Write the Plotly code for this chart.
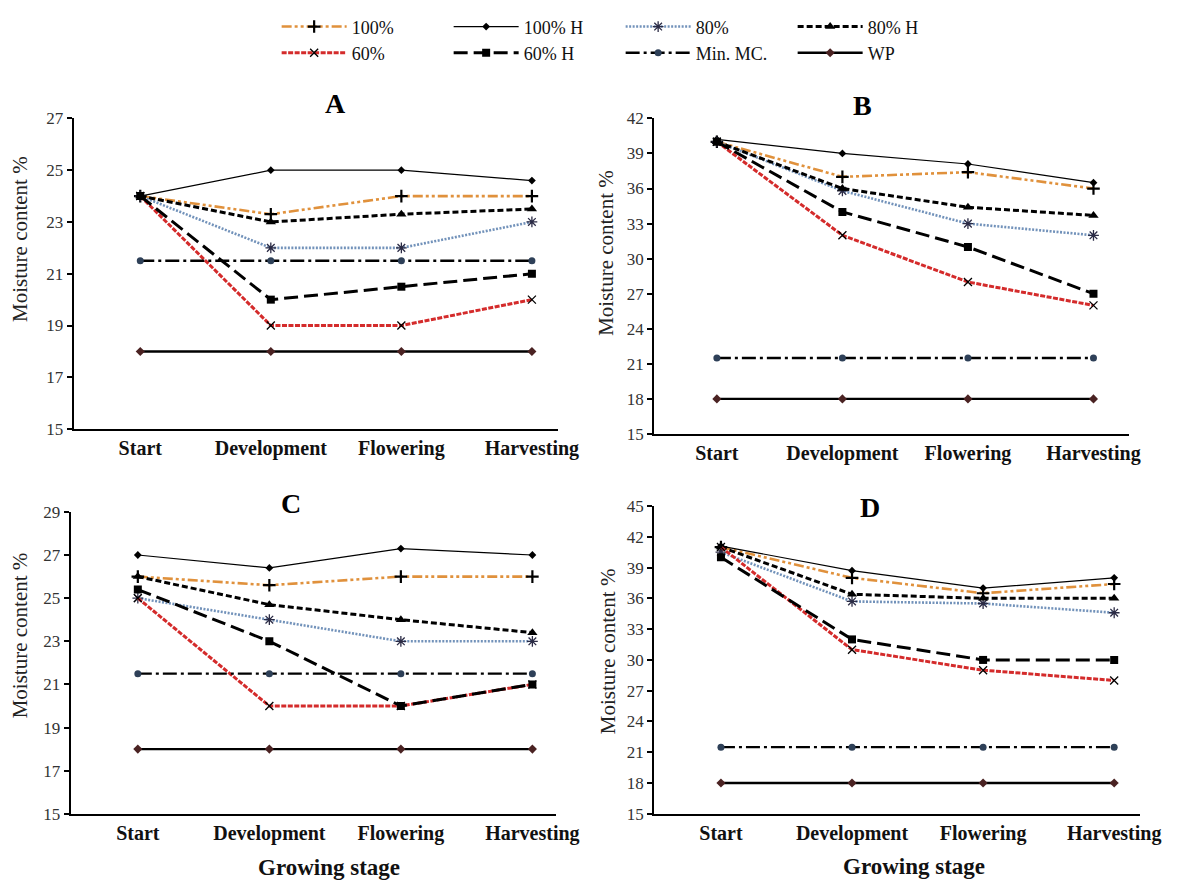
import plotly.graph_objects as go

stages = ["Start", "Development", "Flowering", "Harvesting"]
series_names = ["100%", "100% H", "80%", "80% H", "60%", "60% H", "Min. MC.", "WP"]

# Panel A
A_100 = [24, 23.3, 24, 24]
A_100H = [24, 25, 25, 24.6]
A_80 = [24, 22, 22, 23]
A_80H = [24, 23, 23.3, 23.5]
A_60 = [24, 19, 19, 20]
A_60H = [24, 20, 20.5, 21]
A_MIN = [21.5, 21.5, 21.5, 21.5]
A_WP = [18, 18, 18, 18]

# Panel B
B_100 = [40, 37, 37.4, 36]
B_100H = [40.2, 39, 38.1, 36.5]
B_80 = [40, 35.8, 33, 32]
B_80H = [40, 36, 34.4, 33.7]
B_60 = [40, 32, 28, 26]
B_60H = [40, 34, 31, 27]
B_MIN = [21.5, 21.5, 21.5, 21.5]
B_WP = [18, 18, 18, 18]

# Panel C
C_100 = [26, 25.6, 26, 26]
C_100H = [27, 26.4, 27.3, 27]
C_80 = [25, 24, 23, 23]
C_80H = [26, 24.7, 24, 23.4]
C_60 = [25, 20, 20, 21]
C_60H = [25.4, 23, 20, 21]
C_MIN = [21.5, 21.5, 21.5, 21.5]
C_WP = [18, 18, 18, 18]

# Panel D
D_100 = [41, 38, 36.5, 37.4]
D_100H = [41.1, 38.7, 37, 38]
D_80 = [40.5, 35.7, 35.5, 34.6]
D_80H = [41, 36.4, 36, 36]
D_60 = [41, 31, 29, 28]
D_60H = [40, 32, 30, 30]
D_MIN = [21.5, 21.5, 21.5, 21.5]
D_WP = [18, 18, 18, 18]

panel_labels = ["A", "B", "C", "D"]
y_ranges = [[15, 27], [15, 42], [15, 29], [15, 45]]
y_dticks = [2, 3, 2, 3]

panels = [
    [A_100, A_100H, A_80, A_80H, A_60, A_60H, A_MIN, A_WP],
    [B_100, B_100H, B_80, B_80H, B_60, B_60H, B_MIN, B_WP],
    [C_100, C_100H, C_80, C_80H, C_60, C_60H, C_MIN, C_WP],
    [D_100, D_100H, D_80, D_80H, D_60, D_60H, D_MIN, D_WP],
]

styles = [
    dict(line=dict(color="#E0913C", width=2.6, dash="10px,3px,3px,3px,3px,3px"),
         marker=dict(symbol="cross-thin-open", size=9, color="black", line=dict(color="black", width=2.2))),
    dict(line=dict(color="black", width=1.2),
         marker=dict(symbol="diamond", size=6, color="black")),
    dict(line=dict(color="#7292BA", width=2.6, dash="2px,1.5px"),
         marker=dict(symbol="asterisk-open", size=9, color="#2B2B45", line=dict(color="#2B2B45", width=1.3))),
    dict(line=dict(color="black", width=3, dash="6px,3px"),
         marker=dict(symbol="triangle-up", size=9, color="black")),
    dict(line=dict(color="#D42B2B", width=3, dash="5px,1.5px"),
         marker=dict(symbol="x-thin-open", size=8, color="black", line=dict(color="black", width=1.3))),
    dict(line=dict(color="black", width=3, dash="14px,6px"),
         marker=dict(symbol="square", size=8, color="black")),
    dict(line=dict(color="black", width=2.4, dash="14px,4px,3px,4px"),
         marker=dict(symbol="circle", size=7, color="#2E4058")),
    dict(line=dict(color="black", width=2.4),
         marker=dict(symbol="diamond", size=7, color="#4A2222")),
]

SERIF = "Liberation Serif"

# The page body keeps its default 8px margin, so the figure is laid out in a frame
# offset by 8px; layout positions below are page pixels converted to paper fractions.
OFF = 8
W, H = 1183 - OFF, 892 - OFF


def px_x(xp):
    return (xp - OFF) / W


def px_y(yp):
    return 1 - (yp - OFF) / H


x_px = [[75, 569], [667, 1151], [72, 567], [667, 1163]]
y_px = [[108, 427], [108, 432], [512, 822], [506, 822]]
x_ranges = [[-0.51, 3.2], [-0.5, 3.28], [-0.51, 3.18], [-0.51, 3.2]]

fig = go.Figure()

for p in range(4):
    xa = "x" if p == 0 else f"x{p+1}"
    ya = "y" if p == 0 else f"y{p+1}"
    for s in range(8):
        st = styles[s]
        fig.add_trace(go.Scatter(
            x=list(range(len(stages))), y=panels[p][s],
            mode="lines+markers", name=series_names[s],
            line=st["line"], marker=st["marker"],
            xaxis=xa, yaxis=ya,
            showlegend=(p == 0),
            legend="legend" if s < 4 else "legend2",
            legendrank=s,
        ))

layout_axes = {}
for p in range(4):
    xk = "xaxis" if p == 0 else f"xaxis{p+1}"
    yk = "yaxis" if p == 0 else f"yaxis{p+1}"
    ya = "y" if p == 0 else f"y{p+1}"
    xa = "x" if p == 0 else f"x{p+1}"
    layout_axes[xk] = dict(
        domain=[px_x(x_px[p][0]), px_x(x_px[p][1])], anchor=ya, range=x_ranges[p],
        tickvals=list(range(len(stages))), ticktext=stages,
        showline=True, linecolor="black", linewidth=2, ticks="",
        showgrid=False, zeroline=False,
        tickfont=dict(family=SERIF, size=20, color="#111", weight="bold"),
    )
    layout_axes[yk] = dict(
        domain=[px_y(y_px[p][1]), px_y(y_px[p][0])], anchor=xa, range=y_ranges[p],
        dtick=y_dticks[p], tick0=15, showline=True, linecolor="black", linewidth=2,
        ticks="outside", ticklen=5, tickwidth=2, tickcolor="black",
        showgrid=False, zeroline=False,
        tickfont=dict(family=SERIF, size=17, color="#333"),
    )

annotations = []
title_px = [(342, 93), (880, 95), (297, 503), (887, 507)]
for p in range(4):
    annotations.append(dict(
        text=f"<b>{panel_labels[p]}</b>", x=px_x(title_px[p][0]), y=px_y(title_px[p][1]),
        xref="paper", yref="paper", showarrow=False, xanchor="center", yanchor="middle",
        font=dict(family=SERIF, size=28, color="black")))

ytitle_px = [(20, 232), (618, 246), (20, 639), (620, 655)]
for p in range(4):
    annotations.append(dict(
        text="Moisture content %", x=px_x(ytitle_px[p][0]), y=px_y(ytitle_px[p][1]),
        xref="paper", yref="paper", showarrow=False, textangle=-90,
        xanchor="center", yanchor="middle",
        font=dict(family=SERIF, size=21, color="#222")))

for xp, yp in [(335, 877), (932, 876)]:
    annotations.append(dict(
        text="<b>Growing stage</b>", x=px_x(xp), y=px_y(yp), xref="paper", yref="paper",
        showarrow=False, xanchor="center", yanchor="middle",
        font=dict(family=SERIF, size=23, color="#111")))

legend_common = dict(
    orientation="h", xanchor="left", yanchor="top",
    font=dict(family=SERIF, size=18, color="#111"),
    itemwidth=65, entrywidth=92, entrywidthmode="pixels",
    bgcolor="rgba(0,0,0,0)", borderwidth=0, tracegroupgap=0,
)

fig.update_layout(
    width=W, height=H, autosize=False,
    margin=dict(l=0, r=0, t=0, b=0),
    paper_bgcolor="white", plot_bgcolor="white",
    annotations=annotations,
    legend=dict(x=0.2332, y=1.0147, **legend_common),
    legend2=dict(x=0.2332, y=0.9842, **legend_common),
    **layout_axes,
)

fig.write_html("out.html")
